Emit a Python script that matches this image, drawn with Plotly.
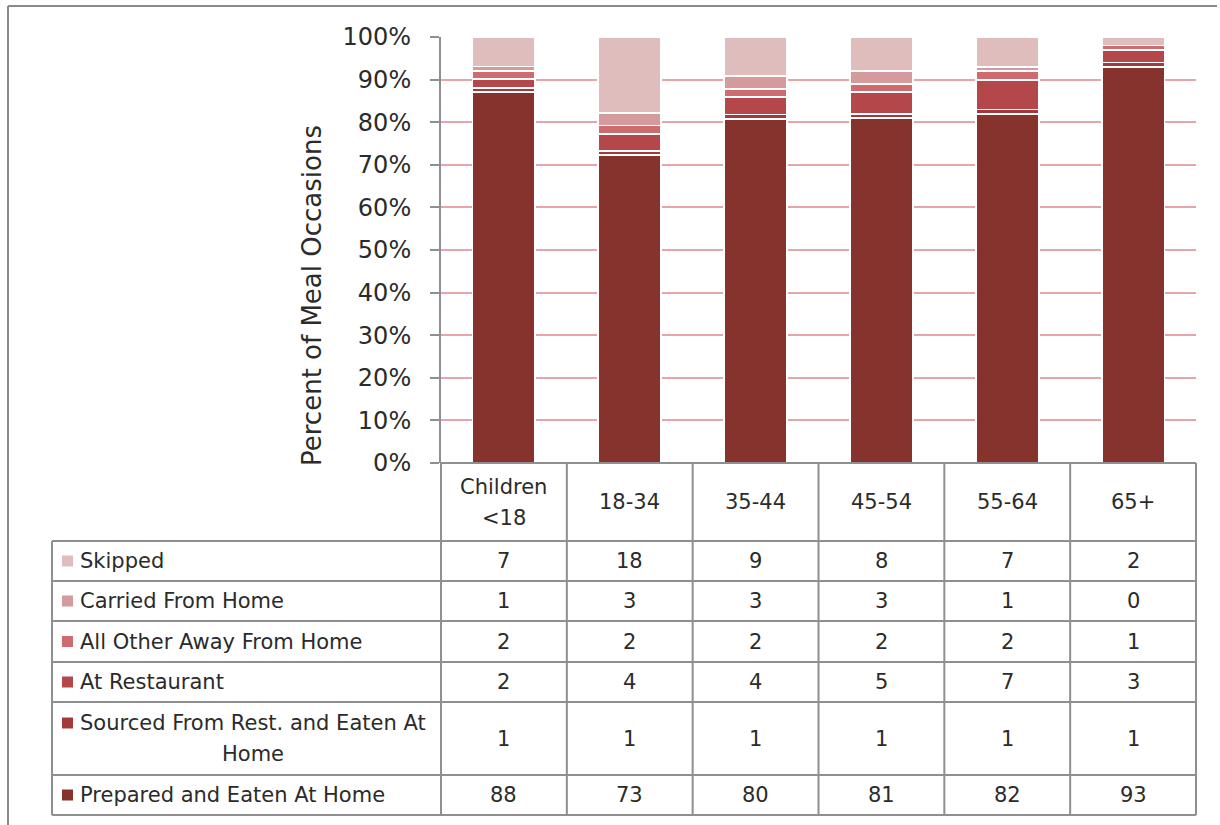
import plotly.graph_objects as go

# ---------------- data ----------------
categories = ["Children <18", "18-34", "35-44", "45-54", "55-64", "65+"]
header_labels = ["Children<br>&lt;18", "18-34", "35-44", "45-54", "55-64", "65+"]

series_names = [
    "Prepared and Eaten At Home",
    "Sourced From Rest. and Eaten At Home",
    "At Restaurant",
    "All Other Away From Home",
    "Carried From Home",
    "Skipped",
]
table_names = [
    "Prepared and Eaten At Home",
    "Sourced From Rest. and Eaten At<br>Home",
    "At Restaurant",
    "All Other Away From Home",
    "Carried From Home",
    "Skipped",
]
prepared = [88, 73, 80, 81, 82, 93]
sourced = [1, 1, 1, 1, 1, 1]
restaurant = [2, 4, 4, 5, 7, 3]
other_away = [2, 2, 2, 2, 2, 1]
carried = [1, 3, 3, 3, 1, 0]
skipped = [7, 18, 9, 8, 7, 2]
series_values = [prepared, sourced, restaurant, other_away, carried, skipped]
colors = ["#87332D", "#A23A3C", "#B4474A", "#CE6B6F", "#D49A9C", "#DFBDBD"]

# ---------------- layout geometry (pixels) ----------------
W, H = 1220, 825
PLOT_L, PLOT_R = 441, 1196
PLOT_T, PLOT_B = 37, 463
TABLE_L = 52
ROW_Y = [541, 581, 621, 662, 702, 775, 815]  # row boundaries, top to bottom
LINE_GAP = 31  # spacing between wrapped lines in table cells
NAME_X = 78
NAME_BLOCK_CX = 253

FONT = "DejaVu Sans"
TEXT = "#2B2B2B"
GRID = "#8F8F8F"
TFS = 21


def px(x):
    return x / W


def py(y):
    return 1 - y / H


def add_lines(annotations, text, x, ymid, xanchor):
    lines = text.split("<br>")
    n = len(lines)
    for j, ln in enumerate(lines):
        yy = ymid + (j - (n - 1) / 2) * LINE_GAP
        annotations.append(dict(xref="paper", yref="paper", x=px(x), y=py(yy), text=ln,
                                showarrow=False, xanchor=xanchor, yanchor="middle",
                                font=dict(family=FONT, size=TFS, color=TEXT)))
    return ymid - (n - 1) / 2 * LINE_GAP


fig = go.Figure()
for name, vals, col in zip(series_names, series_values, colors):
    fig.add_trace(go.Bar(
        x=categories, y=vals, name=name,
        marker=dict(color=col, line=dict(color="white", width=1.8)),
        width=0.5, showlegend=False,
    ))

shapes = []
annotations = []
ncol = len(categories)
step = (PLOT_R - PLOT_L) / ncol
col_x = [PLOT_L + i * step for i in range(ncol + 1)]

lw = 2
# horizontal lines
shapes.append(dict(type="line", xref="paper", yref="paper", x0=px(PLOT_L), x1=px(PLOT_R),
                   y0=py(PLOT_B), y1=py(PLOT_B), line=dict(color=GRID, width=lw)))
for yy in ROW_Y:
    shapes.append(dict(type="line", xref="paper", yref="paper", x0=px(TABLE_L), x1=px(PLOT_R),
                       y0=py(yy), y1=py(yy), line=dict(color=GRID, width=lw)))
# vertical lines
for xx in col_x:
    shapes.append(dict(type="line", xref="paper", yref="paper", x0=px(xx), x1=px(xx),
                       y0=py(PLOT_B), y1=py(ROW_Y[-1]), line=dict(color=GRID, width=lw)))
shapes.append(dict(type="line", xref="paper", yref="paper", x0=px(TABLE_L), x1=px(TABLE_L),
                   y0=py(ROW_Y[0]), y1=py(ROW_Y[-1]), line=dict(color=GRID, width=lw)))
# outer chart border (left + top visible)
shapes.append(dict(type="line", xref="paper", yref="paper", x0=px(8), x1=px(8),
                   y0=py(6), y1=py(830), line=dict(color="#8A8A8A", width=2)))
shapes.append(dict(type="line", xref="paper", yref="paper", x0=px(8), x1=px(1217),
                   y0=py(6), y1=py(6), line=dict(color="#8A8A8A", width=2)))

# header labels
for i, lab in enumerate(header_labels):
    add_lines(annotations, lab, (col_x[i] + col_x[i + 1]) / 2, (PLOT_B + ROW_Y[0]) / 2, "center")

# table rows: top-down = reversed series order
for r, k in enumerate(reversed(range(len(series_names)))):
    ytop, ybot = ROW_Y[r], ROW_Y[r + 1]
    ymid = (ytop + ybot) / 2
    if "<br>" in table_names[k]:
        first_y = add_lines(annotations, table_names[k], NAME_BLOCK_CX, ymid, "center")
    else:
        first_y = add_lines(annotations, table_names[k], NAME_X, ymid, "left")
    shapes.append(dict(type="rect", xref="paper", yref="paper", x0=px(62), x1=px(73),
                       y0=py(first_y - 5.5), y1=py(first_y + 5.5), fillcolor=colors[k],
                       line=dict(width=0)))
    for i in range(ncol):
        add_lines(annotations, str(series_values[k][i]), (col_x[i] + col_x[i + 1]) / 2,
                  ymid, "center")

# y-axis title
annotations.append(dict(xref="paper", yref="paper", x=px(312), y=py(296),
                        text="Percent of Meal Occasions", textangle=-90, showarrow=False,
                        xanchor="center", yanchor="middle",
                        font=dict(family=FONT, size=26, color=TEXT)))

fig.update_layout(
    width=W, height=H,
    margin=dict(l=0, r=0, t=0, b=0, pad=0),
    paper_bgcolor="white", plot_bgcolor="white",
    barmode="stack", barnorm="percent",
    font=dict(family=FONT, color=TEXT),
    xaxis=dict(domain=[px(PLOT_L), px(PLOT_R)], showticklabels=False, ticks="",
               showgrid=False, showline=False, zeroline=False, fixedrange=True,
               automargin=False),
    yaxis=dict(domain=[py(PLOT_B), py(PLOT_T)], range=[0, 100], dtick=10,
               ticksuffix="%", showgrid=True, gridcolor="#E8A5A8", gridwidth=2,
               zeroline=False, showline=True, linecolor="#8F8F8F", linewidth=2,
               ticks="outside", ticklen=9, tickcolor="#8F8F8F", tickwidth=2,
               ticklabelstandoff=14, automargin=False,
               tickfont=dict(family=FONT, size=24, color=TEXT)),
    shapes=shapes, annotations=annotations,
)

fig.write_html("out.html")
